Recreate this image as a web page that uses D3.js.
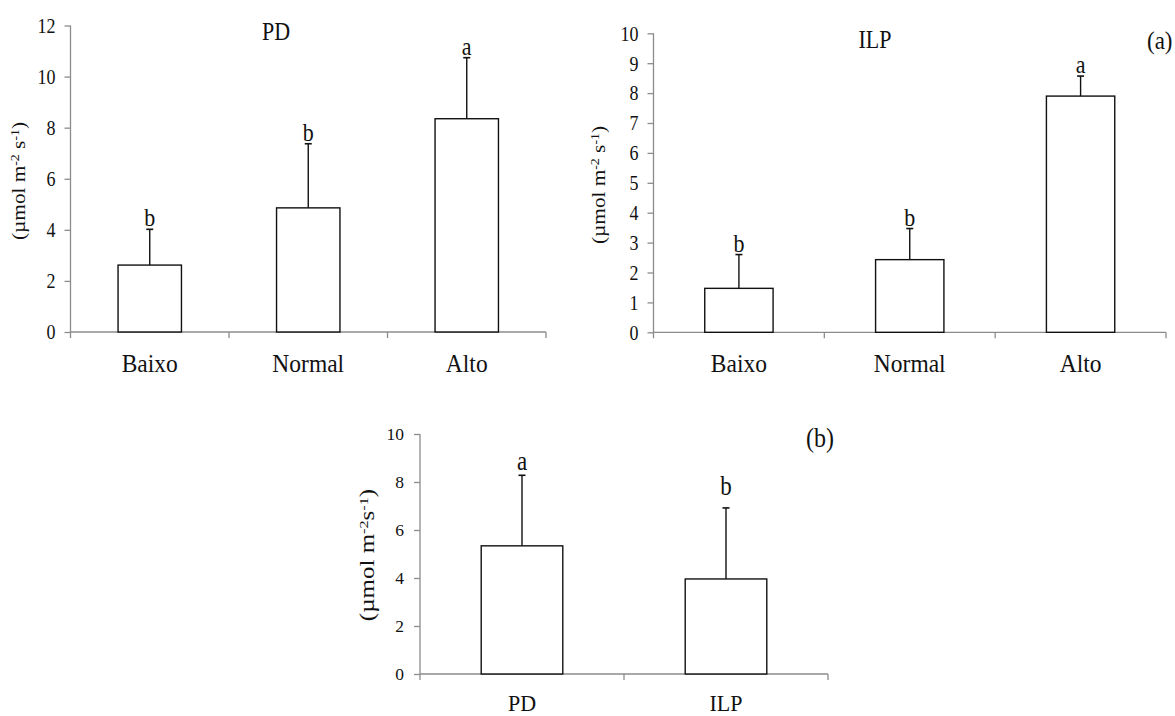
<!DOCTYPE html>
<html>
<head>
<meta charset="utf-8">
<script src="https://cdn.jsdelivr.net/npm/d3@7"></script>
<style>
  html, body { margin: 0; padding: 0; background: #fff; }
  svg { display: block; }
  svg text { font-family: "Liberation Serif", "Times New Roman", serif; fill: #111; }
</style>
</head>
<body>
<svg id="chart" width="1175" height="716"></svg>
<script>
// Treatment levels (panel a) and systems (panel b)
const levels = ["Baixo", "Normal", "Alto"];
const systems = ["PD", "ILP"];

// Panel a – PD: means, upper error (mean + sd), significance letters
const pdMeans = [2.62, 4.86, 8.35];
const pdUpper = [4.02, 7.37, 10.74];
const pdLetters = ["b", "b", "a"];

// Panel a – ILP
const ilpMeans = [1.47, 2.43, 7.90];
const ilpUpper = [2.60, 3.47, 8.57];
const ilpLetters = ["b", "b", "a"];

// Panel b – system comparison
const sysMeans = [5.34, 3.96];
const sysUpper = [8.28, 6.92];
const sysLetters = ["a", "b"];

// Axis tick values
const pdTicks = [0, 2, 4, 6, 8, 10, 12];
const ilpTicks = [0, 1, 2, 3, 4, 5, 6, 7, 8, 9, 10];
const sysTicks = [0, 2, 4, 6, 8, 10];

const svg = d3.select("#chart");
const axisGrey = "#8c8c8c";

// text placed at (x, y) with a slight vertical stretch of the glyphs
function stretched(parent, x, y, size, sy, anchor) {
  return parent.append("text")
    .attr("transform", `translate(${x},${y}) scale(1,${sy})`)
    .attr("text-anchor", anchor || "middle")
    .style("font-size", size + "px");
}

function panel(opt) {
  const g = svg.append("g");
  const x = d3.scaleBand().domain(opt.cats).range([opt.x0, opt.x1]).padding(0);
  const y = d3.scaleLinear().domain([0, opt.ymax]).range([opt.y0, opt.y1]);

  // y axis
  const ya = g.append("g").attr("transform", `translate(${opt.x0},0)`)
    .call(d3.axisLeft(y).tickValues(opt.ticks).tickSize(6).tickPadding(opt.tickPad).tickFormat(d3.format("d")));
  ya.attr("font-family", null);
  ya.selectAll("path,line").attr("stroke", axisGrey).attr("stroke-width", 1.3);
  ya.select(".domain").attr("d", `M0,${opt.y1}V${opt.y0}`);
  ya.selectAll("text").style("font-size", opt.tickFont + "px")
    .attr("transform", `scale(1,${opt.tickSy})`).attr("dy", "0.34em");

  // x axis: baseline plus ticks at the category boundaries
  const xa = g.append("g");
  xa.append("line").attr("x1", opt.x0).attr("x2", opt.x1).attr("y1", y(0)).attr("y2", y(0))
    .attr("stroke", axisGrey).attr("stroke-width", 1.3);
  const bounds = opt.cats.map(c => x(c)).concat([x(opt.cats[opt.cats.length - 1]) + x.bandwidth()]);
  xa.selectAll("line.tk").data(bounds).join("line").attr("class", "tk")
    .attr("x1", d => d).attr("x2", d => d).attr("y1", y(0)).attr("y2", y(0) + 6)
    .attr("stroke", axisGrey).attr("stroke-width", 1.3);
  opt.cats.forEach(c => {
    stretched(xa, x(c) + x.bandwidth() / 2, opt.catY, opt.catFont, opt.catSy).text(c);
  });

  const bw = x.bandwidth() * 0.4;
  const cx = d => x(d) + x.bandwidth() / 2;
  const rows = opt.cats.map((c, i) => ({ c, m: opt.means[i], u: opt.upper[i], l: opt.letters[i], dy: opt.letterDy[i] }));

  // error bars (upper only)
  const eb = g.append("g");
  eb.selectAll("line.stem").data(rows).join("line").attr("class", "stem")
    .attr("x1", d => cx(d.c)).attr("x2", d => cx(d.c)).attr("y1", d => y(d.m)).attr("y2", d => y(d.u))
    .attr("stroke", "#111").attr("stroke-width", 1.4);
  eb.selectAll("line.cap").data(rows).join("line").attr("class", "cap")
    .attr("x1", d => cx(d.c) - 3.5).attr("x2", d => cx(d.c) + 3.5).attr("y1", d => y(d.u)).attr("y2", d => y(d.u))
    .attr("stroke", "#111").attr("stroke-width", 1.6);

  // bars
  g.append("g").selectAll("rect").data(rows).join("rect")
    .attr("x", d => cx(d.c) - bw / 2).attr("width", bw)
    .attr("y", d => y(d.m)).attr("height", d => y(0) - y(d.m))
    .attr("fill", "#fff").attr("stroke", "#111").attr("stroke-width", 1.4);

  // significance letters
  const lg = g.append("g");
  rows.forEach(d => {
    stretched(lg, cx(d.c), y(d.u) - d.dy, opt.letterFont, opt.letterSy).text(d.l);
  });

  // y axis title, rotated
  const yt = g.append("text")
    .attr("transform", `translate(${opt.ylabX},${opt.ylabY}) rotate(-90) scale(${opt.ylabSx},1)`)
    .attr("text-anchor", "middle").style("font-size", opt.ylabFont + "px");
  const sup = opt.ylabFont * 0.65;
  yt.append("tspan").text("(µmol m");
  yt.append("tspan").attr("dy", -6).style("font-size", sup + "px").text("-2");
  yt.append("tspan").attr("dy", 6).text(opt.compact ? "s" : " s");
  yt.append("tspan").attr("dy", -6).style("font-size", sup + "px").text("-1");
  yt.append("tspan").attr("dy", 6).text(")");

  if (opt.title) {
    stretched(g, opt.title.x, opt.title.y, 22, 1.1).text(opt.title.t);
  }
  if (opt.tag) {
    stretched(g, opt.tag.x, opt.tag.y, opt.tag.s, 1.1, "start").text(opt.tag.t);
  }
}

panel({
  cats: levels, means: pdMeans, upper: pdUpper, letters: pdLetters, letterDy: [3, 3, 3],
  ticks: pdTicks, ymax: 12, x0: 70.5, x1: 546, y0: 332, y1: 25.5,
  tickPad: 9, tickFont: 18, tickSy: 1.12, catFont: 23.5, catSy: 1.07, catY: 372,
  letterFont: 22, letterSy: 1.12,
  ylabX: 25, ylabY: 181, ylabFont: 19, ylabSx: 1.12,
  title: { t: "PD", x: 276, y: 40 }
});

panel({
  cats: levels, means: ilpMeans, upper: ilpUpper, letters: ilpLetters, letterDy: [3, 3, 3],
  ticks: ilpTicks, ymax: 10, x0: 653.5, x1: 1166, y0: 332.3, y1: 33.3,
  tickPad: 9, tickFont: 18, tickSy: 1.12, catFont: 23.5, catSy: 1.07, catY: 372,
  letterFont: 22, letterSy: 1.12,
  ylabX: 605, ylabY: 185, ylabFont: 19, ylabSx: 1.12,
  title: { t: "ILP", x: 875, y: 48 },
  tag: { t: "(a)", x: 1147, y: 49, s: 23 }
});

panel({
  cats: systems, means: sysMeans, upper: sysUpper, letters: sysLetters, letterDy: [5, 13],
  ticks: sysTicks, ymax: 10, x0: 420, x1: 828, y0: 674, y1: 434,
  tickPad: 10, tickFont: 17.5, tickSy: 1.0, catFont: 22, catSy: 1.03, catY: 711,
  letterFont: 23, letterSy: 1.15,
  ylabX: 374, ylabY: 555, ylabFont: 20, ylabSx: 1.25, compact: true,
  tag: { t: "(b)", x: 806, y: 447, s: 24 }
});
</script>
</body>
</html>
